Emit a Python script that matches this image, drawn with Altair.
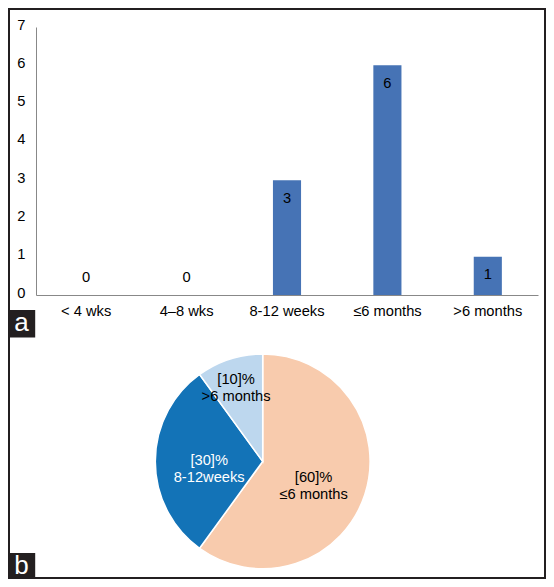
import altair as alt
import pandas as pd

# ---- data ----
bar_categories = ["< 4 wks", "4–8 wks", "8-12 weeks", "≤6 months", ">6 months"]
bar_values = [0, 0, 3, 6, 1]

pie_categories = ["≤6 months", "8-12weeks", ">6 months"]
pie_percent = [60, 30, 10]
pie_labels = ["[60]%\n≤6 months", "[30]%\n8-12weeks", "[10]%\n>6 months"]

bar_df = pd.DataFrame({"cat": bar_categories, "val": bar_values})
pie_df = pd.DataFrame({
    "cat": pie_categories,
    "pct": pie_percent,
    "label": pie_labels,
    "ord": list(range(len(pie_categories))),
})
one = pd.DataFrame({"k": [0]})

FONT = "Liberation Sans"
FS = 14.7
BAR_COLOR = "#4673B5"
PIE_COLORS = ["#F8CBAD", "#1373B7", "#BDD7EE"]
DARK = "#231F20"

W, H = 502, 268

x_enc = alt.X("cat:N", sort=bar_categories,
              scale=alt.Scale(paddingInner=0.72, paddingOuter=0.36),
              axis=alt.Axis(title=None, labelAngle=0, ticks=False, tickSize=0,
                            labelPadding=8, domainColor="#888888",
                            labelFont=FONT, labelFontSize=FS, labelColor="#000000"))
y_enc = alt.Y("val:Q", scale=alt.Scale(domain=[0, 7], nice=False),
              axis=alt.Axis(title=None, values=list(range(8)), grid=False, ticks=False,
                            tickSize=0, labelPadding=11, labelOffset=-2,
                            labelOverlap=False, domainColor="#888888", labelFont=FONT,
                            labelFontSize=FS, labelColor="#000000"))

base = alt.Chart(bar_df)
bars = base.mark_bar(color=BAR_COLOR).encode(x=x_enc, y=y_enc)
lab_pos = base.transform_filter("datum.val > 0").mark_text(
    dy=18.5, font=FONT, fontSize=FS, color="#000000", baseline="middle"
).encode(x=x_enc, y=y_enc, text="val:Q")
lab_zero = base.transform_filter("datum.val == 0").mark_text(
    dy=-17.5, font=FONT, fontSize=FS, color="#000000", baseline="middle"
).encode(x=x_enc, y=y_enc, text="val:Q")

# ---- pie ----
CX, CY, R = 226.7, 434.4, 107.4
pie_base = alt.Chart(pie_df)
theta = alt.Theta("pct:Q", stack=True)
order = alt.Order("ord:Q")
arcs = pie_base.mark_arc(radius=R, stroke="white", strokeWidth=1.5).encode(
    theta=theta, order=order,
    color=alt.Color("cat:N", scale=alt.Scale(domain=pie_categories, range=PIE_COLORS),
                    legend=None),
    x=alt.value(CX), y=alt.value(CY),
)
txt_color = alt.condition(alt.datum.cat == "8-12weeks", alt.value("white"), alt.value("#000000"))
pie_text_big = pie_base.mark_text(
    radius=53.5, lineBreak="\n", font=FONT, fontSize=FS, lineHeight=17, baseline="middle"
).encode(theta=theta, order=order, text="label:N", color=txt_color,
         x=alt.value(CX), y=alt.value(CY),
         opacity=alt.condition("datum.pct < 20", alt.value(0), alt.value(1)))
pie_text_small = pie_base.mark_text(
    radius=86, lineBreak="\n", font=FONT, fontSize=FS, lineHeight=17, baseline="middle"
).encode(theta=theta, order=order, text="label:N", color=alt.value("#000000"),
         x=alt.value(CX), y=alt.value(CY),
         opacity=alt.condition("datum.pct < 20", alt.value(1), alt.value(0)))

# ---- frame and panel letters ----
frame = alt.Chart(one).mark_rect(filled=False, stroke=DARK, strokeWidth=2).encode(
    x=alt.value(-27), x2=alt.value(509), y=alt.value(-18), y2=alt.value(551))
box_a = alt.Chart(one).mark_rect(color=DARK).encode(
    x=alt.value(-28), x2=alt.value(-0.8), y=alt.value(283), y2=alt.value(310.5))
txt_a = alt.Chart(one).mark_text(font=FONT, fontSize=26, color="white", baseline="middle").encode(
    x=alt.value(-14.4), y=alt.value(296), text=alt.value("a"))
box_b = alt.Chart(one).mark_rect(color=DARK).encode(
    x=alt.value(-28), x2=alt.value(-0.8), y=alt.value(526), y2=alt.value(551.6))
txt_b = alt.Chart(one).mark_text(font=FONT, fontSize=26, color="white", baseline="middle").encode(
    x=alt.value(-14.4), y=alt.value(539), text=alt.value("b"))

chart = alt.layer(
    bars, lab_pos, lab_zero, arcs, pie_text_big, pie_text_small,
    frame, box_a, txt_a, box_b, txt_b
).properties(
    width=W, height=H,
    autosize=alt.AutoSizeParams(type="none"),
    padding={"left": 28, "top": 19, "right": 8, "bottom": 284},
    background="white",
).configure_view(strokeWidth=0)

chart.save("out.html", embed_options={"renderer": "svg", "actions": False})
